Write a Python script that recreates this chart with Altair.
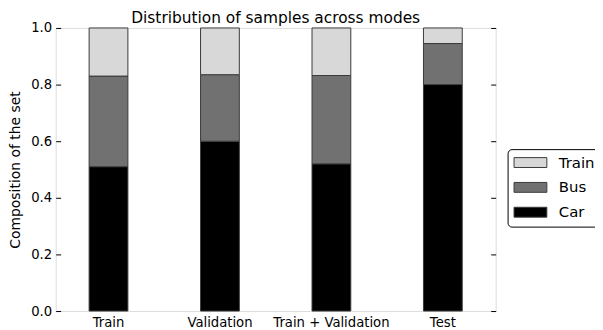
import altair as alt
import pandas as pd

sets = ["Train", "Validation", "Train + Validation", "Test"]
modes = ["Train", "Bus", "Car"]
car = [0.51, 0.60, 0.52, 0.80]
bus = [0.32, 0.235, 0.312, 0.145]
train = [0.17, 0.165, 0.168, 0.055]
colors = ["#d8d8d8", "#717171", "#000000"]
stack_order = {"Car": 0, "Bus": 1, "Train": 2}

rows = []
for i, s in enumerate(sets):
    for m, vals in (("Car", car), ("Bus", bus), ("Train", train)):
        rows.append({"set": s, "mode": m, "value": vals[i], "ord": stack_order[m]})
df = pd.DataFrame(rows)

FONT = "DejaVu Sans"
xscale = alt.Scale(paddingInner=0.652, paddingOuter=0.30)
yscale = alt.Scale(domain=[0, 1], nice=False, zero=True)

rect_path = "M-2.36,-0.71L2.36,-0.71L2.36,0.71L-2.36,0.71Z"

bars = alt.Chart(df).mark_bar(stroke="#3a3a3a", strokeWidth=1).encode(
    x=alt.X("set:N", sort=sets, scale=xscale,
            axis=alt.Axis(title=None, labelAngle=0, ticks=False, domain=False,
                          labelPadding=5, labelFontSize=13.3, labelFont=FONT,
                          labelColor="#000")),
    y=alt.Y("value:Q", stack="zero", scale=yscale,
            axis=alt.Axis(title="Composition of the set", values=[0, 0.2, 0.4, 0.6, 0.8, 1.0],
                          format=".1f", offset=-5, tickSize=5, tickColor="#000",
                          domain=False, grid=False, labelPadding=4, labelFontSize=13.3,
                          labelFont=FONT, labelColor="#000", titleFont=FONT,
                          titleFontSize=14, titleFontWeight="normal", titleColor="#000",
                          titlePadding=8)),
    color=alt.Color("mode:N", scale=alt.Scale(domain=modes, range=colors),
                    legend=alt.Legend(title=None, orient="none", legendX=455, legendY=122,
                                      symbolType=rect_path, symbolSize=196,
                                      symbolStrokeColor="#3a3a3a", symbolStrokeWidth=1,
                                      symbolOffset=9.5,
                                      labelFont=FONT, labelFontSize=15, labelColor="#000",
                                      labelOffset=21, padding=6, rowPadding=9,
                                      strokeColor="#000", fillColor="#fff",
                                      cornerRadius=4, symbolOpacity=1)),
    order=alt.Order("ord:Q", sort="ascending"),
)

ghost = alt.Chart(df).mark_bar(opacity=0).encode(
    x=alt.X("set:N", sort=sets, scale=xscale,
            axis=alt.Axis(orient="top", title=None, labels=False, offset=-5, tickSize=5,
                          tickColor="#000", domain=False)),
    y=alt.Y("value:Q", stack="zero", scale=yscale,
            axis=alt.Axis(orient="right", title=None, labels=False, offset=-5, tickSize=5,
                          values=[0, 0.2, 0.4, 0.6, 0.8, 1.0],
                          tickColor="#000", domain=False, grid=False)),
    order=alt.Order("ord:Q", sort="ascending"),
)

chart = alt.layer(bars, ghost).resolve_scale(x="independent", y="independent").properties(
    width=443, height=285,
    title=alt.Title("Distribution of samples across modes", font=FONT, fontSize=15.5,
                    fontWeight="normal", color="#000", offset=-5),
    autosize=alt.AutoSizeParams(type="none"),
    padding={"left": 48, "top": 19, "right": 100, "bottom": 20},
).configure_view(stroke="#000", strokeWidth=1).configure(background="#fff")

chart.save("out.html", embed_options={"renderer": "svg", "actions": False})
